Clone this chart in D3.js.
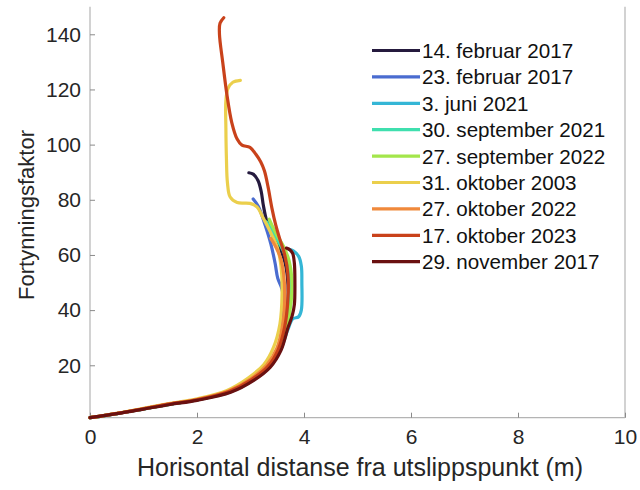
<!DOCTYPE html>
<html>
<head>
<meta charset="utf-8">
<script src="https://cdn.jsdelivr.net/npm/d3@7"></script>
<style>
  html, body { margin: 0; padding: 0; background: #fff; }
  svg { display: block; font-family: "Liberation Sans", Arial, sans-serif; }
</style>
</head>
<body>
<svg id="chart" width="640" height="490"></svg>
<script>
// Horizontal distance (m) vs. dilution factor for each discharge date
const seriesNames = [
  "14. februar 2017", "23. februar 2017", "3. juni 2021", "30. september 2021",
  "27. september 2022", "31. oktober 2003", "27. oktober 2022", "17. oktober 2023",
  "29. november 2017"
];
const seriesColors = [
  "#251a3e", "#4a6cd0", "#34b6d6", "#3fdfae", "#a3e64b",
  "#ebcf4c", "#f0893b", "#c9421b", "#6a1010"
];

const feb14_2017 = [[0,1],[0.5,2.5],[1,4.2],[1.5,5.9],[2,7.5],[2.6,10.4],[3.02,14.6],[3.33,19.5],[3.52,25.5],[3.64,34],[3.7,43],[3.69,52],[3.62,59],[3.5,64],[3.4,67.5],[3.3,72.5],[3.24,78],[3.2,83],[3.14,87],[3.05,89.3],[2.97,89.8]];
const feb23_2017 = [[0,1],[0.5,2.5],[1,4.2],[1.5,5.9],[2,7.5],[2.6,10.4],[3.0,14.6],[3.3,19.5],[3.5,25.5],[3.6,34],[3.62,42],[3.59,47.5],[3.51,51.5],[3.46,57],[3.38,64],[3.27,71],[3.15,77.5],[3.05,80.3]];
const jun3_2021 = [[0,1],[0.5,2.5],[1,4.2],[1.5,5.9],[2,7.4],[2.62,10.3],[3.05,14.6],[3.36,19.4],[3.56,25.5],[3.7,33],[3.79,36.8],[3.9,37.6],[3.95,40],[3.96,50],[3.95,56],[3.9,59.5],[3.8,61.5],[3.72,62]];
const sep30_2021 = [[0,1],[0.5,2.5],[1,4.2],[1.5,5.9],[2,7.5],[2.6,10.4],[3.03,14.7],[3.34,19.6],[3.53,25.6],[3.67,34],[3.74,42],[3.75,50],[3.7,57],[3.6,62],[3.5,65.5],[3.4,69],[3.3,72]];
const sep27_2022 = [[0,1],[0.5,2.5],[1,4.2],[1.5,5.9],[2,7.5],[2.61,10.4],[3.04,14.6],[3.35,19.5],[3.54,25.5],[3.68,34],[3.76,43],[3.77,52],[3.72,58],[3.62,63],[3.5,67],[3.42,70],[3.35,73]];
const oct31_2003 = [[0,1],[0.5,2.6],[1,4.4],[1.5,6.2],[1.98,7.8],[2.55,10.8],[2.95,15.3],[3.25,20.3],[3.43,26.5],[3.55,35],[3.59,46],[3.57,56],[3.5,62.8],[3.38,68],[3.23,73.7],[3.12,77.4],[2.99,78.7],[2.75,79],[2.62,81],[2.57,86],[2.55,95],[2.54,106],[2.54,116],[2.58,120.4],[2.67,122.6],[2.81,123.3]];
const oct27_2022 = [[0,1],[0.5,2.55],[1,4.3],[1.5,6.05],[2,7.6],[2.58,10.6],[3.0,15],[3.3,20],[3.49,26],[3.6,34.5],[3.64,44],[3.62,53],[3.56,59],[3.47,63],[3.38,66]];
const oct17_2023 = [[0,1],[0.5,2.5],[1,4.25],[1.5,6],[2,7.5],[2.6,10.5],[3.02,14.8],[3.33,19.7],[3.52,25.8],[3.64,34],[3.7,44],[3.7,53],[3.64,60],[3.56,65],[3.47,71],[3.4,77],[3.33,84.5],[3.26,90.5],[3.19,93.8],[3.1,96.5],[2.99,99],[2.84,99.8],[2.75,102],[2.65,108],[2.56,118],[2.48,130],[2.42,140],[2.43,144],[2.5,146]];
const nov29_2017 = [[0,1],[0.5,2.45],[1,4.1],[1.5,5.8],[2,7.3],[2.63,10.2],[3.06,14.5],[3.37,19.3],[3.57,25.4],[3.7,33.6],[3.78,38],[3.82,42],[3.83,50],[3.82,57],[3.79,60.5],[3.74,61.8],[3.67,62.5]];

const seriesData = [feb14_2017, feb23_2017, jun3_2021, sep30_2021, sep27_2022,
                    oct31_2003, oct27_2022, oct17_2023, nov29_2017];

const xTicks = [0, 2, 4, 6, 8, 10];
const yTicks = [20, 40, 60, 80, 100, 120, 140];

const svg = d3.select("#chart");
const plotLeft = 90, plotRight = 625, plotTop = 6.7, plotBottom = 417.7;

const x = d3.scaleLinear().domain([0, 10]).range([plotLeft, plotRight]);
const y = d3.scaleLinear().domain([1, 150]).range([plotBottom, plotTop]);

const axisColor = "#b4b4b4";
const textColor = "#262626";

// Frame: left, bottom, right
svg.append("line").attr("x1", plotLeft).attr("x2", plotLeft).attr("y1", plotTop).attr("y2", plotBottom)
  .attr("stroke", axisColor).attr("stroke-width", 1.2);
svg.append("line").attr("x1", plotLeft).attr("x2", plotRight).attr("y1", plotBottom).attr("y2", plotBottom)
  .attr("stroke", axisColor).attr("stroke-width", 1.2);
svg.append("line").attr("x1", plotRight).attr("x2", plotRight).attr("y1", plotTop).attr("y2", plotBottom)
  .attr("stroke", axisColor).attr("stroke-width", 1.2);

// Axes with inward ticks
const xAxis = d3.axisBottom(x).tickValues(xTicks).tickSizeInner(-5).tickSizeOuter(0).tickPadding(11);
const gx = svg.append("g").attr("transform", `translate(0,${plotBottom})`).call(xAxis);
const yAxis = d3.axisLeft(y).tickValues(yTicks).tickSizeInner(-5).tickSizeOuter(0).tickPadding(9);
const gy = svg.append("g").attr("transform", `translate(${plotLeft},0)`).call(yAxis);
[gx, gy].forEach(g => {
  g.select(".domain").remove();
  g.selectAll(".tick line").attr("stroke", "#8a8a8a");
  g.selectAll(".tick text").attr("fill", textColor).style("font-size", "21px")
    .style("font-family", "\"Liberation Sans\", Arial, sans-serif");
});

// Axis titles
svg.append("text").attr("x", 360).attr("y", 476)
  .attr("text-anchor", "middle").attr("fill", textColor).style("font-size", "25px")
  .text("Horisontal distanse fra utslippspunkt (m)");
svg.append("text").attr("transform", "translate(34,215) rotate(-90)")
  .attr("text-anchor", "middle").attr("fill", textColor).style("font-size", "22px")
  .text("Fortynningsfaktor");

// Curves
const line = d3.line().x(d => x(d[0])).y(d => y(d[1])).curve(d3.curveCatmullRom.alpha(0.5));
svg.append("g").selectAll("path").data(seriesData).join("path")
  .attr("d", line)
  .attr("fill", "none")
  .attr("stroke", (d, i) => seriesColors[i])
  .attr("stroke-width", 3.2)
  .attr("stroke-linecap", "round")
  .attr("stroke-linejoin", "round");

// Legend
const legend = svg.append("g");
const legY0 = 50.5, legStep = 26.4;
seriesNames.forEach((name, i) => {
  const ly = legY0 + i * legStep;
  legend.append("line").attr("x1", 372).attr("x2", 420).attr("y1", ly).attr("y2", ly)
    .attr("stroke", seriesColors[i]).attr("stroke-width", 3.2);
  legend.append("text").attr("x", 422).attr("y", ly).attr("dy", "0.36em")
    .attr("fill", "#111").style("font-size", "20.6px").text(name);
});
</script>
</body>
</html>
